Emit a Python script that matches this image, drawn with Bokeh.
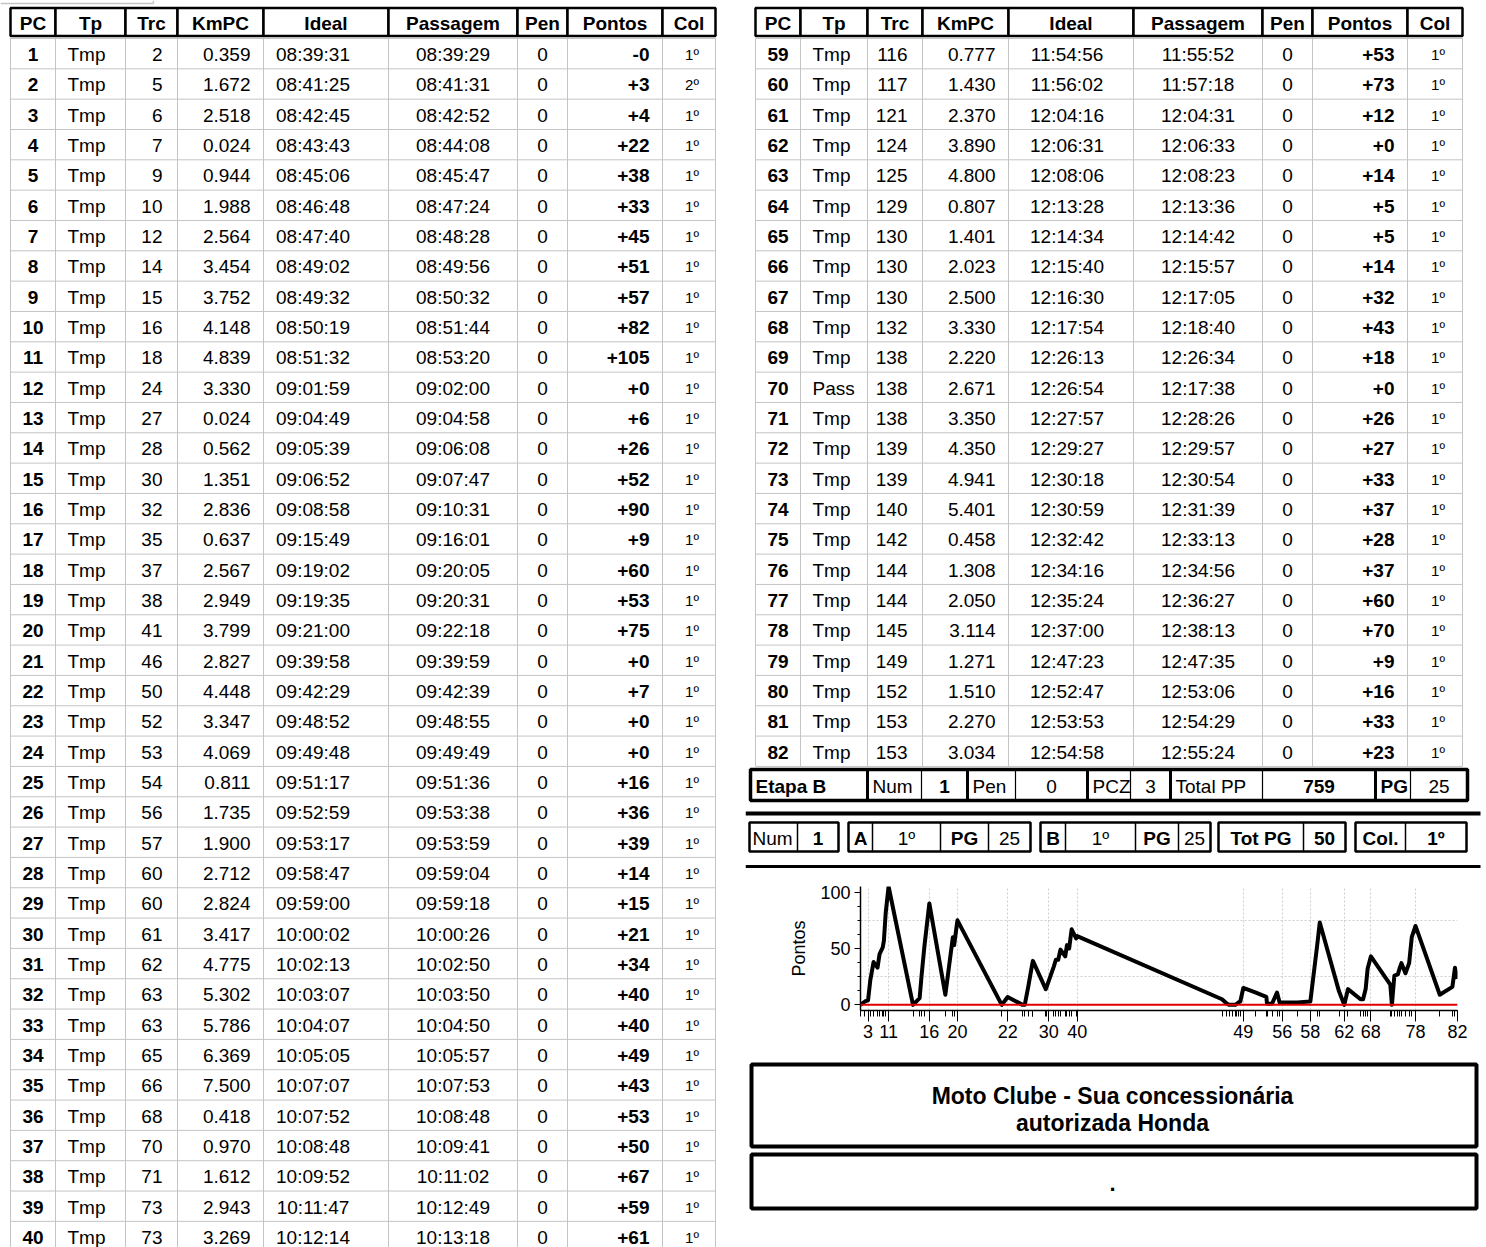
from bokeh.plotting import figure
from bokeh.layouts import row, column
from bokeh.models import ColumnDataSource, Range1d, FixedTicker, Span
from bokeh.core.properties import value
from bokeh.embed import file_html
from bokeh.resources import INLINE

FONT = "Liberation Sans"

# ---------------- data ----------------
headers = ["PC", "Tp", "Trc", "KmPC", "Ideal", "Passagem", "Pen", "Pontos", "Col"]

left_pc = [1, 2, 3, 4, 5, 6, 7, 8, 9, 10, 11, 12, 13, 14, 15, 16, 17, 18, 19, 20,
           21, 22, 23, 24, 25, 26, 27, 28, 29, 30, 31, 32, 33, 34, 35, 36, 37, 38, 39, 40]
left_tp = ["Tmp"] * 40
left_trc = [2, 5, 6, 7, 9, 10, 12, 14, 15, 16, 18, 24, 27, 28, 30, 32, 35, 37, 38, 41,
            46, 50, 52, 53, 54, 56, 57, 60, 60, 61, 62, 63, 63, 65, 66, 68, 70, 71, 73, 73]
left_km = ["0.359", "1.672", "2.518", "0.024", "0.944", "1.988", "2.564", "3.454", "3.752", "4.148",
           "4.839", "3.330", "0.024", "0.562", "1.351", "2.836", "0.637", "2.567", "2.949", "3.799",
           "2.827", "4.448", "3.347", "4.069", "0.811", "1.735", "1.900", "2.712", "2.824", "3.417",
           "4.775", "5.302", "5.786", "6.369", "7.500", "0.418", "0.970", "1.612", "2.943", "3.269"]
left_ideal = ["08:39:31", "08:41:25", "08:42:45", "08:43:43", "08:45:06", "08:46:48", "08:47:40", "08:49:02",
              "08:49:32", "08:50:19", "08:51:32", "09:01:59", "09:04:49", "09:05:39", "09:06:52", "09:08:58",
              "09:15:49", "09:19:02", "09:19:35", "09:21:00", "09:39:58", "09:42:29", "09:48:52", "09:49:48",
              "09:51:17", "09:52:59", "09:53:17", "09:58:47", "09:59:00", "10:00:02", "10:02:13", "10:03:07",
              "10:04:07", "10:05:05", "10:07:07", "10:07:52", "10:08:48", "10:09:52", "10:11:47", "10:12:14"]
left_pass = ["08:39:29", "08:41:31", "08:42:52", "08:44:08", "08:45:47", "08:47:24", "08:48:28", "08:49:56",
             "08:50:32", "08:51:44", "08:53:20", "09:02:00", "09:04:58", "09:06:08", "09:07:47", "09:10:31",
             "09:16:01", "09:20:05", "09:20:31", "09:22:18", "09:39:59", "09:42:39", "09:48:55", "09:49:49",
             "09:51:36", "09:53:38", "09:53:59", "09:59:04", "09:59:18", "10:00:26", "10:02:50", "10:03:50",
             "10:04:50", "10:05:57", "10:07:53", "10:08:48", "10:09:41", "10:11:02", "10:12:49", "10:13:18"]
left_pen = [0, 0, 0, 0, 0, 0, 0, 0, 0, 0, 0, 0, 0, 0, 0, 0, 0, 0, 0, 0,
            0, 0, 0, 0, 0, 0, 0, 0, 0, 0, 0, 0, 0, 0, 0, 0, 0, 0, 0, 0]
left_pontos = ["-0", "+3", "+4", "+22", "+38", "+33", "+45", "+51", "+57", "+82",
               "+105", "+0", "+6", "+26", "+52", "+90", "+9", "+60", "+53", "+75",
               "+0", "+7", "+0", "+0", "+16", "+36", "+39", "+14", "+15", "+21",
               "+34", "+40", "+40", "+49", "+43", "+53", "+50", "+67", "+59", "+61"]
left_col = ["1º", "2º"] + ["1º"] * 38

right_pc = [59, 60, 61, 62, 63, 64, 65, 66, 67, 68, 69, 70, 71, 72, 73, 74, 75, 76, 77, 78, 79, 80, 81, 82]
right_tp = ["Tmp"] * 11 + ["Pass"] + ["Tmp"] * 12
right_trc = [116, 117, 121, 124, 125, 129, 130, 130, 130, 132, 138, 138,
             138, 139, 139, 140, 142, 144, 144, 145, 149, 152, 153, 153]
right_km = ["0.777", "1.430", "2.370", "3.890", "4.800", "0.807", "1.401", "2.023", "2.500", "3.330", "2.220", "2.671",
            "3.350", "4.350", "4.941", "5.401", "0.458", "1.308", "2.050", "3.114", "1.271", "1.510", "2.270", "3.034"]
right_ideal = ["11:54:56", "11:56:02", "12:04:16", "12:06:31", "12:08:06", "12:13:28", "12:14:34", "12:15:40",
               "12:16:30", "12:17:54", "12:26:13", "12:26:54", "12:27:57", "12:29:27", "12:30:18", "12:30:59",
               "12:32:42", "12:34:16", "12:35:24", "12:37:00", "12:47:23", "12:52:47", "12:53:53", "12:54:58"]
right_pass = ["11:55:52", "11:57:18", "12:04:31", "12:06:33", "12:08:23", "12:13:36", "12:14:42", "12:15:57",
              "12:17:05", "12:18:40", "12:26:34", "12:17:38", "12:28:26", "12:29:57", "12:30:54", "12:31:39",
              "12:33:13", "12:34:56", "12:36:27", "12:38:13", "12:47:35", "12:53:06", "12:54:29", "12:55:24"]
right_pen = [0, 0, 0, 0, 0, 0, 0, 0, 0, 0, 0, 0, 0, 0, 0, 0, 0, 0, 0, 0, 0, 0, 0, 0]
right_pontos = ["+53", "+73", "+12", "+0", "+14", "+5", "+5", "+14", "+32", "+43", "+18", "+0",
                "+26", "+27", "+33", "+37", "+28", "+37", "+60", "+70", "+9", "+16", "+33", "+23"]
right_col = ["1º"] * 24

# PCs 41-58 are not visible in the tables; estimated from the chart
hidden_pc = [41, 42, 43, 44, 45, 46, 47, 48, 49, 50, 51, 52, 53, 54, 55, 56, 57, 58]
hidden_ideal = ["11:14:12", "11:16:20", "11:17:19", "11:18:36", "11:19:53", "11:20:32", "11:21:10", "11:22:02",
                "11:23:19", "11:28:27", "11:33:10", "11:33:28", "11:35:36", "11:37:44", "11:38:51", "11:40:01",
                "11:46:26", "11:52:00"]
hidden_pontos = [5, 1, 0, 0, 0, 1, 2, 3, 15, 11, 7, 1, 1, 11, 2, 2, 2, 3]

chart_label_pcs = [3, 11, 16, 20, 22, 30, 40, 49, 56, 58, 62, 68, 78, 82]
y_ticks = [0, 50, 100]

etapa_texts = ["Etapa B", "Num", "1", "Pen", "0", "PCZ", "3", "Total PP", "759", "PG", "25"]
summary_texts = ["Num", "1", "A", "1º", "PG", "25", "B", "1º", "PG", "25", "Tot PG", "50", "Col.", "1º"]
slogan_lines = ["Moto Clube - Sua concessionária", "autorizada Honda"]
note_text = "."

# ---------------- layout / style constants ----------------
LEFT_EDGES = [10, 55, 125, 177, 263, 388, 517, 567, 662, 715]
RIGHT_EDGES = [755, 800, 867, 922, 1008, 1133, 1262, 1312, 1407, 1462]
COL_ALIGN = ["center", "left", "right", "right", "center", "center", "center", "right", "center"]
LEFT_PAD = [0, 12, 15, 13, -13, 0, 0, 13, 3]
RIGHT_PAD = [0, 12, 15, 13, -4, 0, 0, 13, 3]
COL_BOLD = [True, False, False, False, False, False, False, True, False]
COL_SIZE = ["19px"] * 8 + ["15px"]
HEAD_TOP, HEAD_BOT = 7.5, 35.5
GRID_TOP = 38.0
PITCH = 30.33
GREY = "#c4c4c4"
LEFT_W, RIGHT_W, PAGE_H = 745, 741, 1247


def put_text(p, xs, ys, texts, align="center", bold=False, size="19px", font=FONT):
    src = ColumnDataSource(dict(x=xs, y=ys, t=[str(t) for t in texts]))
    p.text(x="x", y="y", text="t", source=src, text_align=align, text_baseline="middle",
           text_font=value(font), text_font_size=size,
           text_font_style="bold" if bold else "normal", text_color="black")


def blank_fig(width, height, x0, y0):
    p = figure(width=width, height=height, x_range=Range1d(x0, x0 + width),
               y_range=Range1d(y0 + height, y0), output_backend="svg", toolbar_location=None,
               x_axis_location=None, y_axis_location=None, min_border=0, frame_align=False)
    p.grid.visible = False
    p.outline_line_color = None
    p.background_fill_color = "white"
    p.border_fill_color = "white"
    return p


def draw_table(p, edges, cols, pads):
    n = len(cols[0])
    bottom = GRID_TOP + n * PITCH
    # light grid
    p.segment(x0=edges, y0=[GRID_TOP] * len(edges), x1=edges, y1=[bottom] * len(edges),
              line_color=GREY, line_width=1)
    ys = [GRID_TOP + k * PITCH for k in range(n + 1)]
    p.segment(x0=[edges[0]] * len(ys), y0=ys, x1=[edges[-1]] * len(ys), y1=ys,
              line_color=GREY, line_width=1)
    # header boxes
    p.quad(left=edges[:-1], right=edges[1:], top=[HEAD_TOP] * 9, bottom=[HEAD_BOT] * 9,
           fill_color="white", line_color="black", line_width=2.5)
    hx = [(a + b) / 2 for a, b in zip(edges[:-1], edges[1:])]
    put_text(p, hx, [(HEAD_TOP + HEAD_BOT) / 2 + 1] * 9, headers, bold=True, size="19px")
    # cells
    cy = [GRID_TOP + (k + 0.5) * PITCH + 1 for k in range(n)]
    for j, col in enumerate(cols):
        x0, x1 = edges[j], edges[j + 1]
        if COL_ALIGN[j] == "left":
            x = x0 + pads[j]
        elif COL_ALIGN[j] == "right":
            x = x1 - pads[j]
        else:
            x = (x0 + x1) / 2 + pads[j]
        put_text(p, [x] * n, cy, col, align=COL_ALIGN[j], bold=COL_BOLD[j], size=COL_SIZE[j])


# ---------------- left table ----------------
figL = blank_fig(LEFT_W, PAGE_H, 0, 0)
# edge of a table above (cut off in the page)
figL.segment(x0=[0, 153], y0=[3, 0], x1=[153, 153], y1=[3, 3], line_color=GREY, line_width=1.5)
draw_table(figL, LEFT_EDGES, [left_pc, left_tp, left_trc, left_km, left_ideal,
                              left_pass, left_pen, left_pontos, left_col], LEFT_PAD)

# ---------------- right table + summary ----------------
figR = blank_fig(RIGHT_W, 868, LEFT_W, 0)
draw_table(figR, RIGHT_EDGES, [right_pc, right_tp, right_trc, right_km, right_ideal,
                               right_pass, right_pen, right_pontos, right_col], RIGHT_PAD)

# Etapa row
ET_TOP, ET_BOT = 769, 800
ET_EDGES = [750, 867, 921, 967, 1015, 1087, 1130, 1170, 1262, 1375, 1410, 1467]
ET_THICK = [0, 1, 3, 5, 7, 9, 11]
ET_BOLD = [True, False, True, False, False, False, False, False, True, True, False]
ET_ALIGN = ["left", "left", "center", "left", "center", "left", "center", "left", "center", "left", "center"]
thin = [i for i in range(len(ET_EDGES)) if i not in ET_THICK]
figR.segment(x0=[ET_EDGES[i] for i in thin], y0=[ET_TOP] * len(thin),
             x1=[ET_EDGES[i] for i in thin], y1=[ET_BOT] * len(thin), line_color="black", line_width=1.2)
figR.segment(x0=[ET_EDGES[i] for i in ET_THICK], y0=[ET_TOP] * len(ET_THICK),
             x1=[ET_EDGES[i] for i in ET_THICK], y1=[ET_BOT] * len(ET_THICK), line_color="black", line_width=3)
figR.quad(left=[ET_EDGES[0]], right=[ET_EDGES[-1]], top=[ET_TOP], bottom=[ET_BOT],
          fill_color=None, line_color="black", line_width=3.5)
for i, t in enumerate(etapa_texts):
    x0, x1 = ET_EDGES[i], ET_EDGES[i + 1]
    x = x0 + 5 if ET_ALIGN[i] == "left" else (x0 + x1) / 2
    put_text(figR, [x], [(ET_TOP + ET_BOT) / 2 + 1], [t], align=ET_ALIGN[i], bold=ET_BOLD[i])

# thick separators
figR.segment(x0=[LEFT_W, LEFT_W], y0=[813, 866], x1=[1480, 1480], y1=[813, 866], line_color="black",
             line_width=[4, 3])

# summary row
SU_TOP, SU_BOT = 822, 851
SU_GROUPS = [[749, 797, 838], [848, 872, 940, 988, 1030], [1040, 1065, 1135, 1178, 1210],
             [1218, 1303, 1345], [1355, 1405, 1466]]
SU_BOLD = [False, True, True, False, True, False, True, False, True, False, True, True, True, True]
SU_ALIGN = ["left", "center", "center", "center", "center", "center", "center", "center",
            "center", "center", "center", "center", "center", "center"]
k = 0
for g in SU_GROUPS:
    figR.quad(left=[g[0]], right=[g[-1]], top=[SU_TOP], bottom=[SU_BOT], fill_color=None,
              line_color="black", line_width=2.5)
    inner = g[1:-1]
    figR.segment(x0=inner, y0=[SU_TOP] * len(inner), x1=inner, y1=[SU_BOT] * len(inner),
                 line_color="black", line_width=1.5)
    for a, b in zip(g[:-1], g[1:]):
        x = a + 3 if SU_ALIGN[k] == "left" else (a + b) / 2
        put_text(figR, [x], [(SU_TOP + SU_BOT) / 2 + 1], [summary_texts[k]],
                 align=SU_ALIGN[k], bold=SU_BOLD[k])
        k += 1

# ---------------- chart ----------------
def secs(t):
    h, m, s = (int(v) for v in t.split(":"))
    return h * 3600 + m * 60 + s


chart_pc = left_pc + hidden_pc + right_pc
chart_x = [secs(t) for t in left_ideal + hidden_ideal + right_ideal]
chart_y = [int(v) for v in left_pontos] + hidden_pontos + [int(v) for v in right_pontos]

figC = figure(width=RIGHT_W, height=187, x_range=Range1d(min(chart_x), max(chart_x)),
              y_range=Range1d(-5, 105), output_backend="svg", toolbar_location=None,
              min_border_left=115, min_border_right=29, min_border_top=18, min_border_bottom=45,
              frame_align=False)
figC.outline_line_color = None
figC.background_fill_color = "white"
figC.border_fill_color = "white"
figC.line(chart_x, chart_y, line_color="black", line_width=4, line_join="round")
figC.add_layout(Span(location=0, dimension="width", line_color="#e00000", line_width=2))

tick_x = [chart_x[chart_pc.index(n)] for n in chart_label_pcs]
figC.xaxis.ticker = FixedTicker(ticks=tick_x, minor_ticks=chart_x)
figC.xaxis.major_label_overrides = {x: str(n) for x, n in zip(tick_x, chart_label_pcs)}
figC.yaxis.ticker = FixedTicker(ticks=y_ticks, minor_ticks=[12.5, 25, 37.5, 62.5, 75, 87.5])
figC.yaxis.axis_label = "Pontos"
figC.yaxis.axis_label_text_font = FONT
figC.yaxis.axis_label_text_font_size = "18px"
figC.yaxis.axis_label_text_font_style = "normal"
figC.yaxis.axis_label_text_color = "black"
figC.yaxis.axis_label_standoff = 8
for ax in (figC.xaxis[0], figC.yaxis[0]):
    ax.axis_line_color = "black"
    ax.axis_line_width = 1.5
    ax.major_tick_line_color = "black"
    ax.minor_tick_line_color = "black"
    ax.major_tick_in = 0
    ax.minor_tick_in = 0
    ax.major_label_text_font = FONT
    ax.major_label_text_font_size = "18px"
    ax.major_label_text_color = "black"
figC.xaxis.major_tick_out = 11
figC.xaxis.minor_tick_out = 6
figC.xaxis.major_label_standoff = 3
figC.yaxis.major_tick_out = 6
figC.yaxis.minor_tick_out = 3
figC.yaxis.major_label_standoff = 4
figC.xgrid.grid_line_color = "#cfcfcf"
figC.xgrid.grid_line_dash = "2 2"
figC.ygrid.grid_line_color = "#cfcfcf"
figC.ygrid.grid_line_dash = "2 2"
figC.ygrid[0].ticker = FixedTicker(ticks=[25, 75])

# ---------------- text boxes ----------------
figD = blank_fig(RIGHT_W, PAGE_H - 1055, LEFT_W, 1055)
figD.quad(left=[751, 751], right=[1476, 1476], top=[1064, 1154], bottom=[1146, 1208],
          fill_color=None, line_color="black", line_width=4)
put_text(figD, [1112, 1112], [1095, 1122], slogan_lines, bold=True, size="23px")
put_text(figD, [1112], [1183], [note_text], bold=True, size="22px")

layout = row(figL, column(figR, figC, figD))
open("out.html", "w").write(file_html(layout, INLINE))
